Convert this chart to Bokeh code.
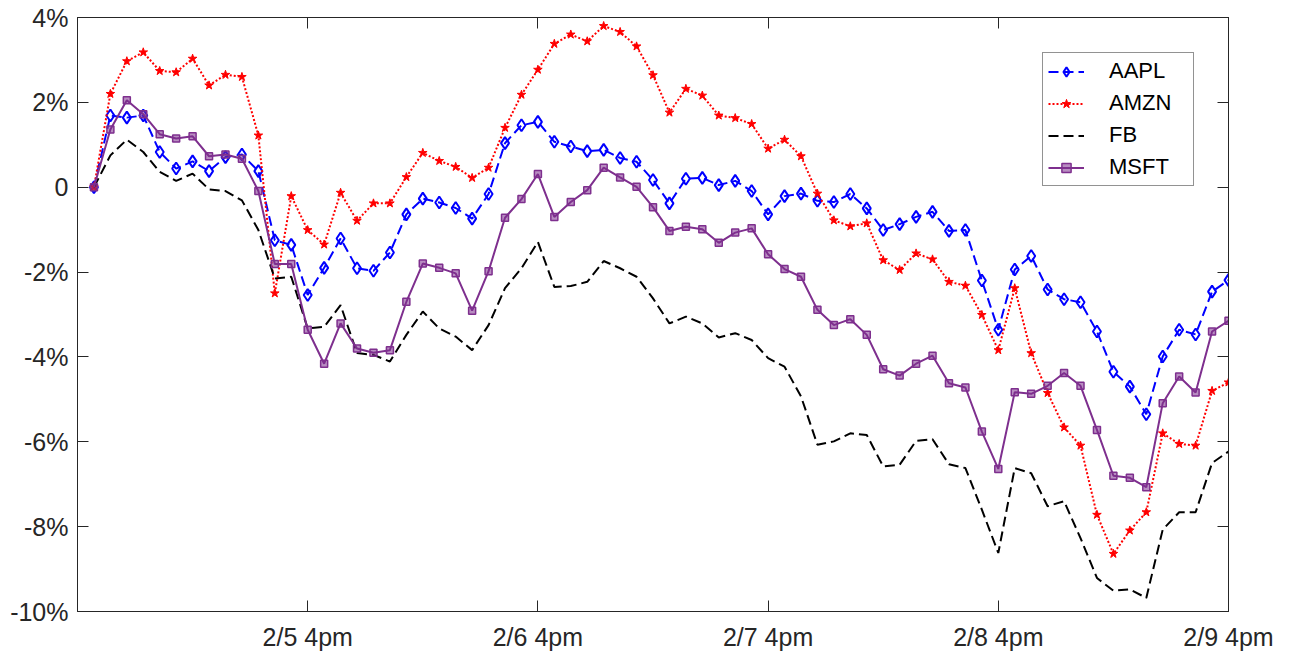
from bokeh.plotting import figure
from bokeh.models import (ColumnDataSource, FixedTicker, LinearAxis, Range1d,
                          Legend, LegendItem)
from bokeh.embed import file_html
from bokeh.resources import INLINE

# ---- data ----
series_names = ["AAPL", "AMZN", "FB", "MSFT"]
x_index = list(range(70))
x_tick_positions = [13, 27, 41, 55, 69]
x_tick_labels = ["2/5 4pm", "2/6 4pm", "2/7 4pm", "2/8 4pm", "2/9 4pm"]
y_tick_positions = [-10, -8, -6, -4, -2, 0, 2, 4]
y_tick_labels = ["-10%", "-8%", "-6%", "-4%", "-2%", "0", "2%", "4%"]

aapl = [0, 1.69, 1.64, 1.69, 0.83, 0.44, 0.61, 0.38, 0.71, 0.77,
        0.38, -1.25, -1.36, -2.54, -1.9, -1.21, -1.91, -1.97, -1.54, -0.64,
        -0.27, -0.36, -0.49, -0.74, -0.16, 1.04, 1.46, 1.54, 1.07, 0.96,
        0.85, 0.88, 0.69, 0.6, 0.17, -0.38, 0.2, 0.22, 0.05, 0.15,
        -0.09, -0.64, -0.21, -0.15, -0.32, -0.35, -0.16, -0.5, -1.01, -0.87,
        -0.7, -0.58, -1.03, -1.01, -2.2, -3.36, -1.94, -1.62, -2.41, -2.64,
        -2.71, -3.4, -4.35, -4.7, -5.35, -3.99, -3.36, -3.47, -2.46, -2.19]
amzn = [0, 2.2, 2.97, 3.18, 2.74, 2.71, 3.03, 2.4, 2.65, 2.6,
        1.22, -2.5, -0.21, -1.01, -1.35, -0.13, -0.79, -0.38, -0.38, 0.24,
        0.81, 0.62, 0.48, 0.22, 0.46, 1.4, 2.18, 2.77, 3.38, 3.6,
        3.44, 3.8, 3.66, 3.32, 2.64, 1.76, 2.32, 2.16, 1.69, 1.63,
        1.49, 0.91, 1.12, 0.73, -0.15, -0.78, -0.92, -0.85, -1.72, -1.95,
        -1.56, -1.7, -2.23, -2.32, -3.01, -3.84, -2.38, -3.91, -4.85, -5.66,
        -6.09, -7.72, -8.64, -8.09, -7.66, -5.8, -6.05, -6.09, -4.8, -4.6]
fb = [0, 0.75, 1.12, 0.83, 0.36, 0.15, 0.32, -0.05, -0.09, -0.31,
      -1.01, -2.15, -2.11, -3.33, -3.29, -2.78, -3.91, -3.95, -4.11, -3.48,
      -2.93, -3.33, -3.52, -3.84, -3.25, -2.38, -1.91, -1.29, -2.35, -2.33,
      -2.23, -1.74, -1.91, -2.11, -2.62, -3.21, -3.05, -3.21, -3.54, -3.44,
      -3.6, -4.03, -4.23, -4.93, -6.07, -5.99, -5.8, -5.84, -6.58, -6.54,
      -5.98, -5.94, -6.53, -6.62, -7.6, -8.62, -6.62, -6.74, -7.52, -7.4,
      -8.27, -9.21, -9.51, -9.48, -9.68, -8.07, -7.66, -7.66, -6.5, -6.23]
msft = [0, 1.36, 2.05, 1.72, 1.25, 1.15, 1.2, 0.73, 0.77, 0.67,
        -0.09, -1.81, -1.81, -3.36, -4.16, -3.21, -3.8, -3.9, -3.84, -2.7,
        -1.8, -1.9, -2.03, -2.91, -1.98, -0.72, -0.28, 0.31, -0.7, -0.35,
        -0.07, 0.46, 0.23, 0.01, -0.47, -1.03, -0.93, -0.99, -1.31, -1.07,
        -0.97, -1.58, -1.93, -2.11, -2.89, -3.25, -3.11, -3.48, -4.29, -4.44,
        -4.16, -3.97, -4.62, -4.72, -5.76, -6.64, -4.83, -4.87, -4.68, -4.38,
        -4.68, -5.72, -6.8, -6.85, -7.07, -5.09, -4.46, -4.84, -3.4, -3.15]

FONT = "Liberation Sans"
TXT = "#262626"

src = ColumnDataSource(dict(x=x_index, AAPL=aapl, AMZN=amzn, FB=fb, MSFT=msft))

p = figure(width=1291, height=653, output_backend="svg", toolbar_location=None,
           x_range=Range1d(-1, 69), y_range=Range1d(-10, 4),
           min_border_left=77, min_border_right=63, min_border_top=17,
           min_border_bottom=41, x_axis_location="below", y_axis_location="left")
p.grid.visible = False
p.outline_line_color = TXT
p.outline_line_width = 1
p.background_fill_color = "white"
p.border_fill_color = "white"

# lines
r_aapl = p.line("x", "AAPL", source=src, line_color="#0000FF", line_width=2,
                line_dash="10 5")
m_aapl = p.scatter("x", "AAPL", source=src, marker="diamond", size=12,
                   line_color="#0000FF", line_width=2, fill_alpha=0)
r_amzn = p.line("x", "AMZN", source=src, line_color="#FF0000", line_width=2,
                line_dash="2 2")
m_amzn = p.scatter("x", "AMZN", source=src, marker="star", size=9,
                   line_color="#FF0000", fill_color="#FF0000", line_width=1)
r_fb = p.line("x", "FB", source=src, line_color="#000000", line_width=2,
              line_dash="10 5")
r_msft = p.line("x", "MSFT", source=src, line_color="#7E2F8E", line_width=2)
m_msft = p.scatter("x", "MSFT", source=src, marker="square", size=7,
                   line_color="#7E2F8E", fill_color="#7E2F8E", fill_alpha=0.55,
                   line_width=1.5)

def style_axis(ax, show_labels=True):
    ax.axis_line_color = TXT
    ax.axis_line_width = 1
    ax.major_tick_line_color = TXT
    ax.major_tick_in = 11
    ax.major_tick_out = 0
    ax.minor_tick_line_color = None
    ax.major_label_text_font = FONT
    ax.major_label_text_font_size = "25px"
    ax.major_label_text_color = TXT
    if not show_labels:
        ax.major_label_text_alpha = 0
        ax.major_label_text_font_size = "1px"
        ax.major_label_standoff = 0

xa = p.xaxis[0]
xa.ticker = FixedTicker(ticks=x_tick_positions)
xa.major_label_overrides = dict(zip(x_tick_positions, x_tick_labels))
style_axis(xa)
xa.major_label_standoff = 11

ya = p.yaxis[0]
ya.ticker = FixedTicker(ticks=y_tick_positions)
ya.major_label_overrides = dict(zip(y_tick_positions, y_tick_labels))
style_axis(ya)
ya.major_label_standoff = 9

top = LinearAxis(ticker=FixedTicker(ticks=x_tick_positions))
style_axis(top, show_labels=False)
p.add_layout(top, "above")
right = LinearAxis(ticker=FixedTicker(ticks=y_tick_positions))
style_axis(right, show_labels=False)
p.add_layout(right, "right")

legend = Legend(items=[
    LegendItem(label=series_names[0], renderers=[r_aapl, m_aapl]),
    LegendItem(label=series_names[1], renderers=[r_amzn, m_amzn]),
    LegendItem(label=series_names[2], renderers=[r_fb]),
    LegendItem(label=series_names[3], renderers=[r_msft, m_msft]),
], location=(965, 425))
legend.margin = 0
legend.padding = 5
legend.spacing = 6
legend.glyph_width = 36
legend.glyph_height = 23
legend.label_height = 23
legend.label_standoff = 25
legend.label_width = 79
legend.label_text_font = FONT
legend.label_text_font_size = "22px"
legend.label_text_color = "#000000"
legend.border_line_color = TXT
legend.border_line_width = 1
legend.background_fill_color = "white"
legend.background_fill_alpha = 1
p.add_layout(legend, "center")

open("out.html", "w").write(file_html(p, INLINE))
